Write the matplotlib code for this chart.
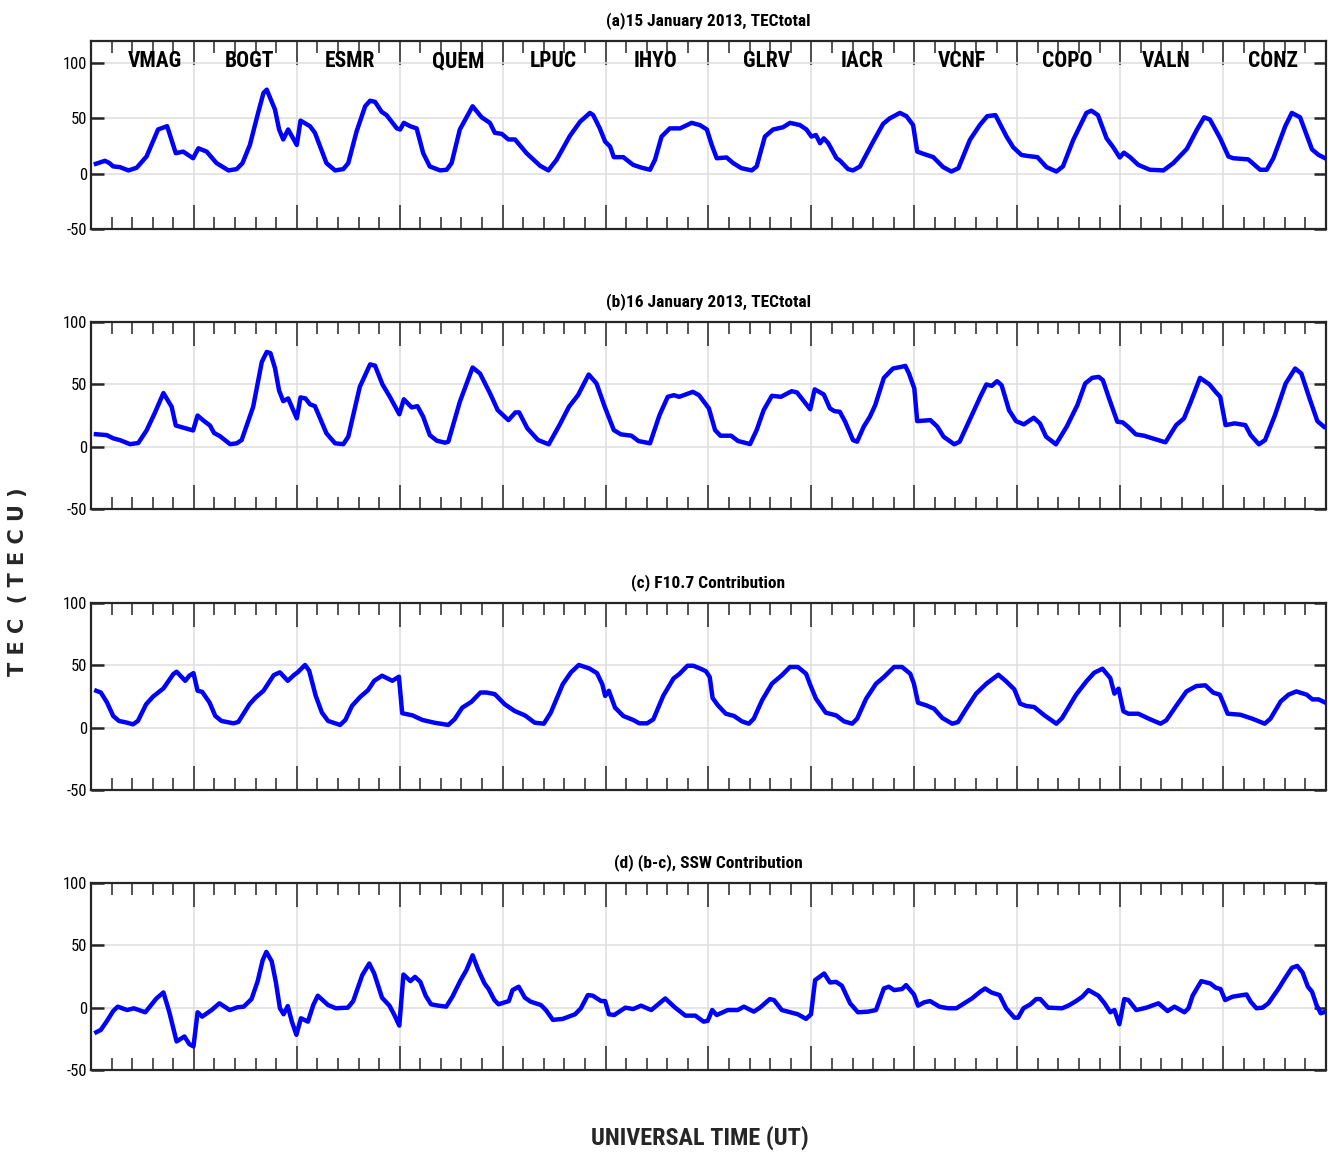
"""TEC total, F10.7 and SSW contributions along a chain of GNSS stations (15-16 January 2013)."""

import matplotlib

matplotlib.use("Agg")
import matplotlib.pyplot as plt
from matplotlib import font_manager
from matplotlib.ticker import MultipleLocator, NullFormatter

# pick a narrow font if there is one
_names = {f.name for f in font_manager.fontManager.ttflist}
NARROW = next(
    (n for n in ["Liberation Sans Narrow", "Roboto Condensed", "Liberation Sans"] if n in _names),
    "DejaVu Sans",
)

STATIONS = ["VMAG", "BOGT", "ESMR", "QUEM", "LPUC", "IHYO",
            "GLRV", "IACR", "VCNF", "COPO", "VALN", "CONZ"]
STATION_X = [15.5, 38.4, 62.9, 89.1, 112.2, 137.2, 164.0, 187.3, 211.6, 237.1, 261.1, 287.1]

TITLES = [
    "(a)15 January 2013, TECtotal",
    "(b)16 January 2013, TECtotal",
    "(c) F10.7 Contribution",
    "(d) (b-c), SSW Contribution",
]

# (a) 15 January, TEC total
tec15_x = [1.2, 3.4, 4.5, 5.4, 7.0, 9.1, 11.1, 13.5, 16.3, 18.5, 20.6, 22.4, 24.8, 26.1, 28.1,
           30.5, 33.4, 35.4, 36.8, 38.6, 40.6, 41.9, 42.7, 44.7, 45.7, 46.7, 47.9, 50.0, 50.9,
           53.2, 54.4, 57.2, 59.3, 61.3, 62.5, 64.5, 66.6, 67.8, 69.0, 70.6, 71.8, 74.3, 75.1,
           76.0, 77.5, 79.1, 80.7, 82.3, 84.8, 86.4, 87.6, 89.6, 92.7, 94.9, 96.9, 98.1, 99.8,
           101.4, 103.0, 105.8, 109.1, 111.1, 113.1, 116.3, 118.8, 121.2, 122.0, 123.6, 124.9,
           126.1, 127.0, 129.3, 131.7, 133.8, 135.8, 137.0, 138.6, 140.6, 143.1, 145.9, 147.9,
           149.6, 150.8, 152.0, 154.4, 156.0, 158.0, 160.5, 161.7, 163.7, 165.7, 168.1, 169.8,
           172.2, 173.8, 175.0, 176.1, 177.1, 178.0, 179.1, 181.1, 181.9, 183.9, 185.1, 186.8,
           190.0, 192.4, 194.0, 196.5, 198.1, 199.7, 200.7, 202.2, 204.6, 207.0, 209.0, 210.7,
           213.5, 215.9, 217.7, 219.7, 222.4, 224.0, 226.0, 227.6, 229.9, 232.1, 234.5, 236.1,
           238.6, 241.8, 243.0, 244.6, 246.7, 248.3, 249.9, 250.9, 252.4, 254.4, 257.2, 260.5,
           262.9, 266.2, 268.6, 270.4, 271.8, 274.3, 276.3, 277.5, 281.1, 284.0, 285.6, 287.2,
           290.1, 291.7, 293.7, 296.6, 298.2, 299.8]
tec15_y = [9, 11.7, 9.6, 6.6, 6, 3, 5.4, 15.6, 40, 43, 18.6, 20, 14, 23, 20,
           9.6, 3, 4.2, 9.6, 26, 55, 73, 76, 58, 40, 31, 40, 26, 48,
           43, 37, 9.6, 3, 4.2, 9.6, 38, 61, 66, 65, 56, 53, 41, 40,
           46, 43, 41, 18.6, 6.6, 3, 3.6, 9.6, 40, 61, 51, 46, 37, 36,
           31, 31, 18.6, 7.2, 3, 12.6, 34, 47, 55, 53, 41, 29,
           24.6, 15, 15, 8, 5.4, 3.6, 12.6, 33.6, 41, 41, 46, 44,
           40, 26, 14, 14.7, 9.6, 5, 3, 6.6, 33.6, 40, 42, 46,
           44, 40, 33.6, 35, 27.6, 32, 27.6, 14, 12, 4.2, 3, 6.6,
           29, 45, 50, 55, 52, 44, 20, 18, 15, 6, 2, 5,
           30.6, 44, 52, 53, 33.6, 24, 17, 16, 15, 6, 2, 6.6,
           30.6, 55, 57, 53, 32, 24, 14.7, 19, 15, 8, 3.6, 3,
           9.6, 22.5, 39.6, 51, 49, 32, 15.6, 14, 13, 3.6, 3.6, 14,
           43, 55, 51, 22, 17, 14]

# (b) 16 January, TEC total
tec16_x = [1.2, 3.8, 5.4, 7.0, 9.5, 11.5, 13.5, 15.5, 17.6, 19.6, 20.6, 24.8, 25.9, 27.3, 28.9,
           29.9, 31.3, 33.8, 35.4, 36.6, 39.4, 41.5, 42.7, 43.6, 44.7, 45.7, 46.7, 47.9, 50.0,
           50.9, 52.1, 53.2, 54.4, 57.2, 59.3, 61.3, 62.5, 65.3, 67.8, 69.0, 70.8, 72.6, 74.9,
           76.0, 77.9, 79.3, 80.7, 82.3, 84.0, 86.0, 86.8, 89.6, 92.7, 94.5, 96.9, 98.8, 101.4,
           103.1, 104.0, 106.0, 108.6, 111.2, 113.8, 116.1, 118.3, 120.9, 122.8, 124.8, 127.0,
           128.7, 131.3, 133.0, 135.8, 138.1, 140.1, 141.6, 142.9, 146.2, 147.7, 150.1, 151.6,
           152.9, 155.5, 157.2, 160.1, 161.7, 163.4, 165.4, 167.6, 170.2, 171.5, 174.7, 175.8,
           178.0, 179.5, 180.6, 181.9, 183.2, 185.1, 186.1, 187.7, 189.2, 190.5, 192.6, 194.8,
           196.8, 197.8, 198.7, 200.0, 200.7, 203.9, 205.6, 207.1, 209.7, 211.0, 213.6, 216.2,
           217.5, 218.8, 220.1, 221.2, 223.0, 224.7, 226.6, 229.0, 230.5, 232.0, 234.4, 237.0,
           239.6, 241.5, 243.2, 244.8, 245.8, 247.3, 249.3, 250.6, 251.9, 253.8, 255.8, 258.4,
           261.0, 263.6, 265.5, 267.1, 269.4, 271.7, 273.3, 274.3, 275.6, 277.8, 280.4, 281.7,
           283.7, 285.2, 287.6, 290.2, 292.5, 294.0, 296.0, 297.9, 299.5]
tec16_y = [10, 9.3, 6.7, 5.3, 2, 3, 13, 27, 43, 32, 17, 13, 25, 21, 17,
           11, 8.5, 2, 2.7, 5.3, 32, 68, 76, 75, 63, 45, 36.5, 38.7, 22.7,
           39.5, 38.7, 34, 32.5, 10.7, 2.7, 2, 8, 48, 66, 65, 50, 40, 26,
           38, 31.5, 32.5, 24, 9.3, 4.8, 3.2, 4, 36, 63.5, 58.7, 43, 29.3, 21.3,
           27.5, 27.5, 14.7, 5.3, 1.9, 17.3, 32, 41.3, 57.9, 50.7, 32, 13.3,
           9.9, 8.8, 4.5, 2.7, 25.3, 40, 41.3, 40, 44, 41.3, 30.7, 13.3,
           8.8, 8.8, 4.5, 2.1, 13.3, 29.3, 40.8, 40, 44.5, 43.5, 30, 46,
           41.9, 30.7, 28.5, 28, 20, 5.3, 4, 16, 24, 33.3, 55.2, 62.7,
           64, 64.8, 58.7, 46.7, 20.5, 21.3, 16, 8, 1.9, 4, 22.7, 41.3,
           49.9, 48.8, 52.5, 49.3, 29.3, 20.5, 17.9, 23.2, 18.7, 8, 1.9, 16,
           33.3, 50.7, 55.2, 56, 53.3, 38.7, 20, 19.5, 16, 9.9, 8.8, 6.1,
           3.5, 17.3, 22.7, 35.5, 55.2, 49.9, 43.5, 40, 17.3, 18.7, 17.3, 9.3,
           1.9, 5.3, 25.3, 50.7, 62.7, 58.7, 38.7, 20.5, 16]

# (c) F10.7 contribution
f107_x = [1.3, 2.4, 3.9, 5.4, 6.8, 8.8, 10.2, 11.4, 13.4, 15.1, 17.6, 20.0, 20.8, 22.9, 23.9,
          24.9, 25.9, 27.0, 28.8, 30.2, 31.7, 34.6, 35.8, 38.5, 40.0, 41.9, 44.4, 45.9, 47.8,
          49.3, 50.2, 52.0, 53.0, 54.6, 56.1, 57.6, 60.5, 61.8, 63.4, 65.4, 67.3, 68.8, 70.7,
          73.2, 74.8, 75.6, 78.1, 80.5, 83.4, 86.8, 88.3, 90.2, 92.4, 94.6, 96.1, 98.1, 100.5,
          102.9, 105.4, 107.8, 110.0, 111.7, 114.6, 116.6, 118.5, 121.0, 122.9, 124.2, 124.9,
          125.8, 127.3, 129.3, 131.7, 133.2, 135.1, 136.6, 139.0, 141.5, 142.9, 144.9, 146.3,
          148.3, 149.4, 150.3, 151.0, 152.3, 154.2, 156.2, 158.1, 159.8, 161.0, 163.0, 165.4,
          167.8, 169.8, 171.7, 173.7, 174.7, 176.1, 178.5, 181.0, 182.9, 184.9, 186.1, 188.3,
          190.7, 192.6, 195.1, 197.0, 199.0, 199.9, 200.9, 202.9, 204.8, 206.8, 209.2, 210.6,
          212.6, 215.0, 217.5, 220.4, 222.3, 224.3, 225.7, 227.2, 229.1, 231.6, 234.5, 235.9,
          239.3, 241.8, 243.7, 245.7, 247.6, 248.6, 249.6, 250.8, 252.0, 254.4, 257.3, 259.8,
          261.2, 263.7, 266.1, 268.5, 270.7, 272.6, 274.2, 275.3, 276.1, 279.2, 282.1, 285.1,
          286.5, 289.0, 290.9, 292.8, 295.3, 296.7, 298.2, 299.9]
f107_y = [29.6, 28.2, 20.2, 9.4, 5.4, 4, 2.7, 5.4, 18.8, 25, 31.5, 43, 44.9, 37.6, 41.7,
          43.8, 29.6, 28.8, 20.2, 9.4, 5.4, 3.5, 4.6, 18.8, 24.2, 29.6, 42.2, 44.4, 37.6,
          42.2, 44.4, 50.3, 45.7, 25.5, 12.1, 5.4, 2.2, 6.2, 17.5, 24.7, 30.1, 37.6, 41.7,
          37.6, 40.9, 11.6, 9.9, 6.2, 4, 2.2, 6.7, 16.1, 20.7, 28.2, 28.2, 26.9, 18.8,
          13.4, 9.9, 4, 3.2, 12.1, 34.9, 44.4, 50.3, 47.6, 43.8, 34.9, 25.5,
          29.6, 16.1, 9.4, 6.2, 3.5, 3.5, 6.7, 25.5, 39.5, 43, 49.7, 49.7,
          47, 45.2, 40.6, 23.8, 17.9, 11.2, 9.4, 5.1, 3.2, 7.2, 21.9, 35.3,
          42, 48.7, 48.7, 43.3, 34.5, 23.3, 12, 9.9, 5.1, 3.2, 7.2, 23.3,
          35.3, 40.6, 48.7, 48.7, 43.3, 35.3, 20, 17.9, 15.2, 7.8, 3.2, 4.5,
          15.2, 27.3, 35.3, 42.5, 37.2, 30.7, 19.3, 17.4, 16.6, 9.9, 3.2, 7.8,
          26.5, 37.2, 44.1, 47.3, 39.8, 27.3, 31.3, 13.1, 11.2, 11.2, 6.7, 3.2,
          5.9, 17.9, 29.1, 33.4, 34, 28.1, 26.5, 17.9, 11.2, 10.4, 7.2, 3.2,
          7.2, 21.1, 26.5, 29.1, 26.5, 22.7, 22.7, 20]

# (d) b - c, SSW contribution
ssw_x = [1.3, 2.4, 3.9, 5.4, 6.5, 8.8, 10.4, 13.2, 15.9, 17.6, 19.0, 20.8, 22.7, 23.9, 24.9,
         25.9, 27.0, 29.3, 31.2, 33.7, 35.6, 37.1, 39.0, 40.5, 41.7, 42.6, 43.9, 44.9, 45.9,
         46.8, 47.8, 48.8, 49.9, 51.0, 52.7, 54.0, 55.1, 57.6, 59.5, 62.4, 63.7, 65.9, 67.6,
         68.8, 70.7, 72.5, 73.7, 74.9, 75.9, 77.6, 78.7, 80.0, 81.3, 82.6, 84.4, 86.3, 87.8,
         89.8, 91.2, 92.7, 94.1, 95.6, 96.6, 98.0, 99.0, 101.5, 102.4, 103.9, 105.4, 106.8,
         109.3, 110.5, 112.2, 114.6, 117.6, 119.0, 120.7, 121.9, 123.9, 124.9, 125.8, 127.1,
         129.8, 131.7, 133.6, 136.1, 139.5, 141.9, 144.4, 146.8, 148.8, 149.8, 150.9, 152.0,
         154.7, 157.1, 158.6, 161.0, 162.5, 164.9, 165.9, 167.8, 169.3, 171.7, 173.7, 174.9,
         175.9, 178.1, 179.5, 181.0, 182.4, 184.4, 186.3, 188.8, 190.7, 192.6, 193.8, 195.1,
         197.0, 198.0, 199.9, 200.9, 202.4, 203.8, 206.1, 208.2, 210.2, 214.0, 216.0, 217.2,
         218.7, 220.7, 222.3, 224.3, 225.2, 226.5, 228.2, 229.6, 230.6, 232.5, 235.9, 237.4,
         239.3, 240.8, 242.3, 244.7, 246.2, 247.6, 248.6, 249.8, 251.0, 252.0, 253.9, 256.4,
         259.3, 261.5, 263.2, 265.6, 266.6, 267.6, 269.7, 271.9, 273.2, 274.4, 275.5, 277.3,
         280.7, 281.7, 283.1, 284.6, 286.0, 288.5, 289.9, 291.7, 293.0, 294.3, 295.6, 296.6,
         297.7, 298.7, 299.9]
ssw_y = [-19.7, -17.8, -10.6, -2.7, 0.8, -1.9, -0.5, -3.7, 7.4, 12.2, -3.2, -27.1, -23.1, -29.3, -31.1,
         -3.7, -7.2, -1.9, 3.5, -1.9, 0.3, 0.8, 6.9, 21.3, 38, 44.7, 37.2, 20.7, -0.5,
         -5.3, 1.3, -11.2, -21.8, -8.5, -11.2, 2.1, 9.6, 2.1, -0.5, 0, 5.3, 26.1, 35.4,
         27.4, 8, 1.6, -5.9, -14.4, 26.6, 21.3, 24.7, 20.7, 9.6, 2.7, 1.6, 0.8, 8.8,
         22.1, 30.1, 42, 30.1, 19.4, 14.9, 6.1, 2.7, 5.3, 14.1, 16.8, 8, 4.8,
         2.1, -1.9, -9.8, -9, -5.3, -0.5, 10.1, 9.6, 5.3, 5.3, -5.3, -5.9,
         0, -1.1, 1.6, -1.9, 7.4, 0, -6.4, -6.4, -11.2, -10.6, -1.9, -5.9,
         -1.9, -1.9, 0.8, -3.2, 0, 6.9, 6.1, -1.9, -3.2, -5.3, -9, -5.3,
         22.1, 27.4, 20.2, 20.7, 17.6, 3.5, -3.7, -3.2, -1.9, 15.4, 16.8, 14.1,
         14.9, 18.1, 10.6, 1.6, 4.3, 5.3, 0.8, -0.5, -0.5, 7.4, 12.8, 15.4,
         12.2, 10.1, -0.5, -8, -8, -0.5, 2.7, 6.9, 6.9, 0, -0.5, 1.6,
         5.3, 8.8, 14.1, 9.6, 3.5, -3.7, -1.9, -13.3, 6.9, 6.1, -1.9, 0,
         3.5, -2.7, 0.8, -3.7, -0.5, 9.6, 21.3, 19.4, 16, 14.9, 6.1, 8.8,
         10.6, 4.8, -0.5, 0, 3.5, 15.4, 22.9, 31.9, 33.5, 28.2, 16.8, 12.8,
         2.1, -4.5, -3.2]

SERIES = [(tec15_x, tec15_y), (tec16_x, tec16_y), (f107_x, f107_y), (ssw_x, ssw_y)]
YLIMS = [(-50, 120), (-50, 100), (-50, 100), (-50, 100)]

# axes boxes in figure fraction (left, bottom, width, height)
BOXES = [
    (0.0685, 0.8017, 0.930, 0.1628),
    (0.0685, 0.5593, 0.930, 0.1619),
    (0.0685, 0.3160, 0.930, 0.1619),
    (0.0685, 0.0736, 0.930, 0.1619),
]

fig = plt.figure(figsize=(13.28, 11.55), dpi=100)

for i, (box, (xs, ys), title, ylim) in enumerate(zip(BOXES, SERIES, TITLES, YLIMS)):
    ax = fig.add_axes(box)
    ax.plot(xs, ys, color="#0000ff", lw=3.2, solid_joinstyle="round", zorder=3)
    ax.set_xlim(0, 300)
    ax.set_ylim(*ylim)

    ax.xaxis.set_major_locator(MultipleLocator(25))
    ax.xaxis.set_minor_locator(MultipleLocator(5))
    ax.xaxis.set_major_formatter(NullFormatter())
    ax.set_yticks([-50, 0, 50, 100])
    ax.set_yticklabels(["-50", "0", "50", "100"], family=NARROW, fontsize=12)

    ax.tick_params(axis="x", which="major", direction="in", length=17, width=1.1,
                   top=True, bottom=True, color="#262626")
    ax.tick_params(axis="x", which="minor", direction="in", length=8.5, width=1.1,
                   top=True, bottom=True, color="#262626")
    ax.tick_params(axis="y", which="major", direction="in", length=9, width=1.8,
                   left=True, right=True, pad=3, color="#262626")

    ax.grid(True, which="major", color="#dedede", lw=1.1, zorder=0)
    for sp in ax.spines.values():
        sp.set_linewidth(1.6)
        sp.set_color("#262626")

    ax.set_title(title, family=NARROW, fontweight="bold", fontsize=12.5, pad=11)

    if i == 0:
        for name, sx in zip(STATIONS, STATION_X):
            ax.text(sx, 102, name, ha="center", va="center", family=NARROW,
                    fontweight="bold", fontsize=15.5)

fig.text(0.0135, 0.496, "T E C  ( T E C U )", rotation=90, ha="center", va="center",
         family="DejaVu Sans", fontweight="bold", fontsize=15, color="#262626")
fig.text(0.527, 0.0147, "UNIVERSAL TIME (UT)", ha="center", va="center",
         family=NARROW, fontweight="bold", fontsize=17.5, color="#262626")

fig.savefig("out.png", dpi=100)
